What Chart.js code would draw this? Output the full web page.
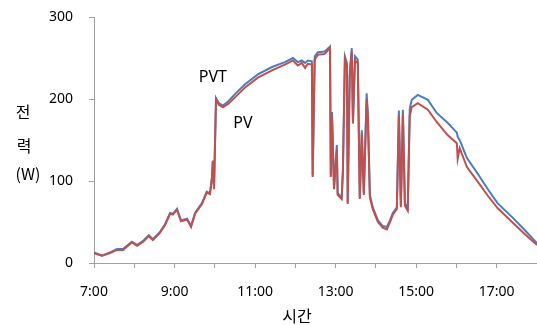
<!DOCTYPE html>
<html>
<head>
<meta charset="utf-8">
<script src="https://cdn.jsdelivr.net/npm/chart.js@4"></script>
<style>
  body { margin: 0; background: #fff; }
  #wrap { width: 537px; height: 325px; }
</style>
</head>
<body>
<div id="wrap"><canvas id="chart"></canvas></div>
<script>
// time of day in hours
const hours = [7.00, 7.20, 7.40, 7.57, 7.72, 7.94, 8.07, 8.22, 8.36, 8.46, 8.64, 8.76, 8.89, 8.96, 9.06, 9.16, 9.31, 9.41, 9.51, 9.58,
  9.68, 9.80, 9.88, 9.93, 9.95, 9.98, 10.03, 10.10, 10.20, 10.33, 10.50, 10.75, 11.07, 11.42, 11.74, 11.94, 12.06, 12.16, 12.24, 12.31,
  12.41, 12.43, 12.48, 12.56, 12.73, 12.86, 12.88, 12.91, 12.96, 13.03, 13.05, 13.15, 13.18, 13.23, 13.28, 13.30, 13.35, 13.40, 13.43, 13.48,
  13.55, 13.60, 13.65, 13.70, 13.77, 13.80, 13.85, 13.92, 14.05, 14.17, 14.27, 14.35, 14.42, 14.52, 14.57, 14.62, 14.67, 14.72, 14.79, 14.84,
  14.89, 15.04, 15.29, 15.51, 15.78, 16.01, 16.03, 16.08, 16.26, 16.50, 16.78, 17.02, 17.40, 17.70, 18.00]

const pvt = [13, 9, 13, 17, 17, 26, 22, 27, 34, 29, 38, 47, 61, 60, 66, 52, 54, 45, 61, 66,
  73, 87, 85, 105, 125, 91, 201, 195, 192, 197, 206, 218, 230, 239, 245, 250, 245, 247, 244, 247,
  246, 107, 252, 257, 258, 264, 107, 184, 93, 144, 85, 80, 113, 252, 244, 74, 232, 262, 174, 252,
  248, 80, 162, 85, 207, 183, 83, 68, 52, 45, 44, 52, 61, 68, 186, 70, 187, 73, 67, 188,
  199, 205, 199, 183, 171, 159, 154, 150, 128, 111, 90, 73, 55, 40, 24]

const pv = [12, 9, 12, 16, 16, 25, 21, 26, 33, 28, 37, 46, 60, 59, 65, 51, 53, 44, 60, 65,
  72, 86, 84, 104, 124, 90, 200, 193, 190, 194, 202, 214, 226, 235, 242, 247, 241, 244, 238, 243,
  242, 105, 248, 254, 255, 262, 105, 178, 90, 138, 83, 78, 110, 248, 240, 72, 228, 258, 170, 247,
  244, 78, 158, 83, 200, 178, 80, 66, 50, 43, 41, 50, 59, 66, 180, 68, 181, 70, 64, 180,
  190, 195, 187, 172, 156, 146, 127, 140, 117, 101, 82, 67, 49, 35, 22]

const seriesNames = ['PVT', 'PV']
const yTicks = [0, 100, 200, 300]
const xLabelHours = [7, 9, 11, 13, 15, 17]

const toPoints = vals => hours.map((h, i) => ({ x: h, y: vals[i] }))

// draws the in-chart series names and the axis titles
const textPlugin = {
  id: 'texts',
  afterDraw(chart) {
    const ctx = chart.ctx
    const xs = chart.scales.x
    const ys = chart.scales.y
    ctx.save()
    ctx.fillStyle = '#000'
    ctx.font = '16px "Noto Sans", "Noto Sans CJK KR", sans-serif'
    ctx.textAlign = 'center'
    ctx.textBaseline = 'middle'
    ctx.fillText(seriesNames[0], xs.getPixelForValue(9.95), ys.getPixelForValue(226))
    ctx.fillText(seriesNames[1], xs.getPixelForValue(10.7), ys.getPixelForValue(170))
    ctx.font = '16px "Noto Sans CJK KR", sans-serif'
    ctx.fillText('전', 23, 112)
    ctx.fillText('력', 24, 146)
    ctx.fillText('(W)', 28, 174)
    ctx.fillText('시간', 297, 316)
    ctx.restore()
  }
}

new Chart(document.getElementById('chart'), {
  type: 'line',
  data: {
    datasets: [
      { label: seriesNames[0], data: toPoints(pvt), borderColor: '#4a7ebb', borderWidth: 2, pointRadius: 0, order: 1 },
      { label: seriesNames[1], data: toPoints(pv), borderColor: '#c0504d', borderWidth: 2, pointRadius: 0, order: 0 }
    ]
  },
  options: {
    responsive: true,
    maintainAspectRatio: false,
    animation: false,
    layout: { autoPadding: false, padding: { left: 48, top: 17, right: 0, bottom: 22 } },
    plugins: { legend: { display: false }, tooltip: { enabled: false } },
    scales: {
      x: {
        type: 'linear',
        min: 7,
        max: 18,
        border: { color: '#a0a0a0' },
        grid: { drawOnChartArea: false, tickLength: 5, color: '#a0a0a0' },
        afterFit: axis => { axis.paddingLeft = 0; axis.paddingRight = 0; axis.height = 40 },
        ticks: {
          stepSize: 1,
          autoSkip: false,
          maxRotation: 0,
          padding: 16,
          color: '#000',
          font: { size: 14, family: '"Noto Sans", sans-serif' },
          callback: v => xLabelHours.includes(v) ? v + ':00' : ''
        }
      },
      y: {
        min: 0,
        max: 300,
        border: { color: '#a0a0a0' },
        grid: { drawOnChartArea: false, tickLength: 5, color: '#a0a0a0' },
        afterBuildTicks: axis => { axis.ticks = yTicks.map(v => ({ value: v })) },
        afterFit: axis => { axis.paddingTop = 0; axis.paddingBottom = 0; axis.width = 46 },
        ticks: {
          padding: 16,
          color: '#000',
          font: { size: 14, family: '"Noto Sans", sans-serif' }
        }
      }
    }
  },
  plugins: [textPlugin]
})
</script>
</body>
</html>
